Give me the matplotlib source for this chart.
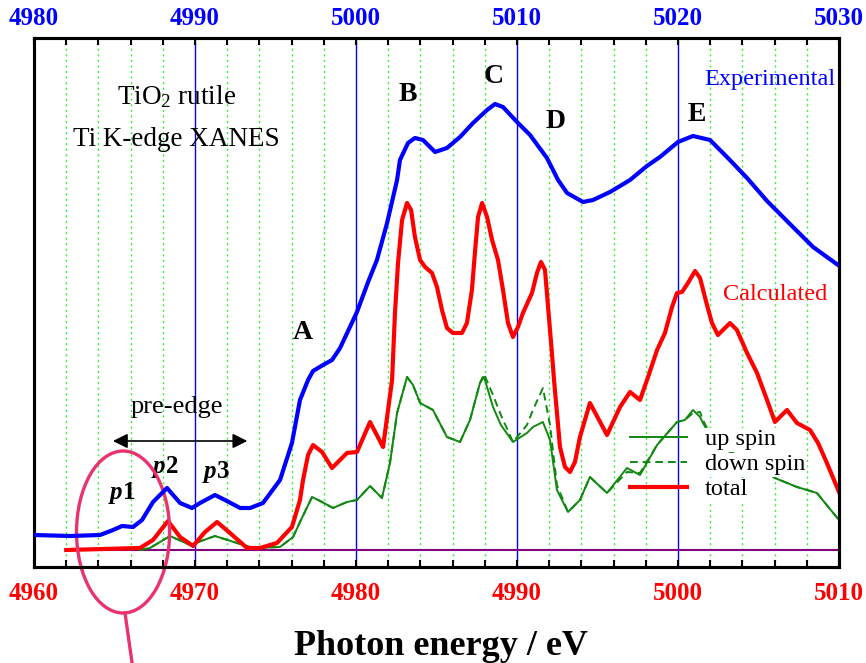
import matplotlib
matplotlib.use("Agg")
import matplotlib.pyplot as plt
import numpy as np
from matplotlib.patches import Ellipse
from matplotlib.ticker import MultipleLocator

plt.rcParams['font.family'] = ['Liberation Serif', 'DejaVu Serif']
plt.rcParams['mathtext.fontset'] = 'custom'
plt.rcParams['mathtext.rm'] = 'Liberation Serif'
plt.rcParams['mathtext.it'] = 'Liberation Serif:italic'
plt.rcParams['mathtext.bf'] = 'Liberation Serif:bold'
plt.rcParams['mathtext.bfit'] = 'Liberation Serif:bold:italic'
plt.rcParams['lines.solid_joinstyle'] = 'round'
plt.rcParams['lines.dash_joinstyle'] = 'round'

# experimental spectrum (energy on the upper, blue scale)
exp_e = [4980.0, 4982.24, 4984.10, 4984.91, 4985.47, 4986.15, 4986.71, 4987.39,
         4988.26, 4989.07, 4989.81, 4990.31, 4991.24, 4991.86, 4992.80, 4993.42,
         4994.22, 4995.28, 4996.02, 4996.52, 4997.02, 4997.33, 4997.95, 4998.51,
         4999.01, 5000.06, 5000.75, 5001.30, 5001.93, 5002.55, 5002.73, 5003.23,
         5003.66, 5004.16, 5004.91, 5005.65, 5006.46, 5007.27, 5008.14, 5008.63,
         5009.13, 5010.00, 5010.81, 5011.86, 5012.55, 5013.11, 5014.10, 5014.72,
         5015.78, 5017.02, 5018.07, 5018.88, 5020.00, 5020.93, 5021.99, 5023.04,
         5024.29, 5025.53, 5027.14, 5028.39, 5029.94]
exp_i = [0.15, 0.14, 0.15, 0.20, 0.24, 0.23, 0.30, 0.48,
         0.62, 0.47, 0.42, 0.47, 0.55, 0.50, 0.42, 0.42,
         0.47, 0.70, 1.07, 1.50, 1.70, 1.79, 1.85, 1.90,
         2.02, 2.38, 2.68, 2.90, 3.27, 3.70, 3.90, 4.07,
         4.12, 4.10, 3.98, 4.02, 4.13, 4.27, 4.40, 4.46,
         4.43, 4.28, 4.15, 3.92, 3.70, 3.57, 3.48, 3.50,
         3.58, 3.70, 3.84, 3.93, 4.08, 4.14, 4.10, 3.93,
         3.72, 3.49, 3.23, 3.03, 2.85]

# calculated total spectrum (lower, red scale)
calc_e = [4962.0, 4966.58, 4967.39, 4968.32, 4969.07, 4969.88, 4970.62, 4971.37,
          4972.17, 4973.23, 4974.04, 4975.09, 4976.02, 4976.52, 4976.71, 4977.02,
          4977.33, 4977.89, 4978.51, 4979.44, 4980.06, 4980.87, 4981.68, 4982.24,
          4982.42, 4982.61, 4982.86, 4983.17, 4983.42, 4983.66, 4983.98, 4984.29,
          4984.72, 4985.03, 4985.34, 4985.65, 4986.02, 4986.58, 4986.89, 4987.20,
          4987.39, 4987.58, 4987.83, 4988.14, 4988.45, 4988.82, 4989.13, 4989.44,
          4989.75, 4990.06, 4990.37, 4990.93, 4991.24, 4991.49, 4991.74, 4991.93,
          4992.17, 4992.30, 4992.67, 4992.98, 4993.29, 4993.60, 4993.91, 4994.53,
          4995.03, 4995.59, 4996.40, 4997.02, 4997.64, 4998.14, 4998.70, 4999.19,
          4999.63, 4999.94, 5000.25, 5000.62, 5001.06, 5001.37, 5001.80, 5002.11,
          5002.48, 5003.23, 5003.66, 5004.29, 5004.91, 5005.53, 5006.02, 5006.77,
          5007.39, 5008.20, 5008.70, 5009.25, 5010.0]
calc_i = [0.0, 0.02, 0.10, 0.29, 0.13, 0.04, 0.18, 0.28,
          0.17, 0.02, 0.02, 0.07, 0.23, 0.50, 0.70, 0.95,
          1.05, 0.98, 0.82, 0.97, 0.98, 1.28, 1.03, 1.70,
          2.37, 2.87, 3.30, 3.47, 3.40, 3.13, 2.90, 2.83,
          2.77, 2.63, 2.40, 2.22, 2.17, 2.17, 2.27, 2.60,
          2.98, 3.33, 3.47, 3.33, 3.10, 2.90, 2.60, 2.27,
          2.13, 2.23, 2.37, 2.57, 2.77, 2.88, 2.80, 2.43,
          1.97, 1.70, 1.03, 0.83, 0.78, 0.88, 1.13, 1.47,
          1.32, 1.15, 1.43, 1.58, 1.50, 1.73, 2.00, 2.17,
          2.43, 2.57, 2.58, 2.67, 2.79, 2.72, 2.45, 2.27,
          2.15, 2.27, 2.20, 1.97, 1.77, 1.50, 1.28, 1.40,
          1.27, 1.20, 1.07, 0.87, 0.58]

# spin-resolved spectra
spin_e = [4966.58, 4967.20, 4968.45, 4969.69, 4971.24, 4972.61, 4973.60, 4975.28, 4976.09, 4976.52,
          4977.27, 4977.89, 4978.57, 4979.44, 4980.06, 4980.87, 4981.61, 4982.11, 4982.55, 4983.17,
          4983.54, 4983.98, 4984.78, 4985.65, 4986.46, 4987.08, 4987.70, 4987.95, 4988.51, 4989.00,
          4989.75, 4990.62, 4990.99, 4991.61, 4992.05, 4992.48, 4993.17, 4993.91, 4994.53, 4995.59,
          4996.83, 4997.64, 4998.70, 4999.94, 5000.43, 5000.93, 5001.37, 5001.55, 5002.17, 5003.23,
          5004.47, 5006.02, 5007.39, 5008.63, 5010.0]
up_i = [0.0, 0.02, 0.14, 0.05, 0.14, 0.07, 0.02, 0.03, 0.13, 0.28,
        0.53, 0.48, 0.42, 0.48, 0.50, 0.64, 0.52, 0.87, 1.37, 1.73,
        1.65, 1.47, 1.40, 1.13, 1.08, 1.30, 1.67, 1.73, 1.43, 1.25,
        1.08, 1.17, 1.23, 1.28, 1.10, 0.60, 0.38, 0.50, 0.73, 0.57,
        0.82, 0.75, 1.05, 1.28, 1.30, 1.40, 1.33, 1.27, 1.10, 0.98,
        0.90, 0.72, 0.63, 0.57, 0.30]
down_i = [0.0, 0.02, 0.14, 0.05, 0.14, 0.07, 0.02, 0.03, 0.13, 0.28,
          0.53, 0.48, 0.42, 0.48, 0.50, 0.64, 0.52, 0.87, 1.37, 1.73,
          1.65, 1.47, 1.40, 1.13, 1.08, 1.30, 1.67, 1.76, 1.55, 1.35,
          1.08, 1.25, 1.40, 1.62, 1.25, 0.65, 0.38, 0.50, 0.73, 0.57,
          0.78, 0.77, 1.05, 1.28, 1.30, 1.37, 1.38, 1.30, 1.10, 0.98,
          0.90, 0.72, 0.63, 0.57, 0.30]

fig = plt.figure(figsize=(8.66, 6.63), dpi=100)
ax = fig.add_axes([0.0393, 0.1448, 0.9295, 0.7979])
ax.set_xlim(4960, 5010)
ax.set_ylim(-0.17, 5.12)
ax.set_yticks([])

# grid: blue every 10 eV, green dotted every 2 eV
ax.xaxis.set_major_locator(MultipleLocator(10))
ax.xaxis.set_minor_locator(MultipleLocator(2))
ax.grid(which='major', axis='x', color='#0000ff', lw=1.0, ls='-')
ax.grid(which='minor', axis='x', color='#33ee33', lw=1.0, ls=(0, (1.5, 2.5)))
ax.set_axisbelow(True)

ax.tick_params(axis='x', which='both', direction='in', length=5, width=1.5,
               top=False, bottom=True, pad=11)
ax.tick_params(axis='x', which='major', labelsize=18, labelcolor='#ff0000')
for lab in ax.get_xticklabels():
    lab.set_fontweight('bold')
for sp in ax.spines.values():
    sp.set_linewidth(2.2)

# baseline, spin-resolved and total calculated spectra
ax.plot(calc_e, np.zeros(len(calc_e)), color='#800080', lw=1.5, zorder=2)
ax.plot(spin_e, up_i, color='#118811', lw=1.4, zorder=3, label='up spin')
ax.plot(spin_e, down_i, color='#118811', lw=1.4, ls=(0, (4, 2.5)), zorder=3,
        label='down spin')
ax.plot(calc_e, calc_i, color='#ff0000', lw=3.0, zorder=4, label='total')

leg = ax.legend(loc='upper left', bbox_to_anchor=(0.740, 0.262), frameon=False,
                fontsize=17.5, handlelength=2.35, handletextpad=0.75,
                labelspacing=0.12, borderpad=0, borderaxespad=0)
for t in leg.get_texts():
    t.set_bbox(dict(facecolor='white', edgecolor='none', pad=1))

# experimental spectrum on the upper energy scale
ax2 = ax.twiny()
ax2.set_xlim(4980, 5030)
ax2.xaxis.set_major_locator(MultipleLocator(10))
ax2.xaxis.set_minor_locator(MultipleLocator(2))
ax2.tick_params(axis='x', which='both', direction='in', length=5, width=1.5, pad=6)
ax2.tick_params(axis='x', which='major', labelsize=18, labelcolor='#0000ff')
for lab in ax2.get_xticklabels():
    lab.set_fontweight('bold')
for sp in ax2.spines.values():
    sp.set_linewidth(2.2)
ax2.plot(exp_e, exp_i, color='#0000ff', lw=3.0, zorder=4)

# labels
ax.text(4968.85, 4.53, r'TiO$_2$ rutile', fontsize=19.5, ha='center', va='center')
ax.text(4968.82, 4.10, 'Ti K-edge XANES', fontsize=19.5, ha='center', va='center')
ax.text(5009.8, 4.70, 'Experimental', fontsize=17.5, color='#0000ff',
        ha='right', va='center')
ax.text(5009.25, 2.55, 'Calculated', fontsize=17.5, color='#ff0000',
        ha='right', va='center')
for s, xe, yv in [('A', 4976.71, 2.17), ('B', 4983.23, 4.55), ('C', 4988.57, 4.73),
                  ('D', 4992.42, 4.28), ('E', 5001.18, 4.35)]:
    ax.text(xe, yv, s, fontsize=20, fontweight='bold', ha='center', va='center')

ax.text(4968.88, 1.43, 'pre-edge', fontsize=19, ha='center', va='center')
ax.annotate('', xy=(4964.9, 1.09), xytext=(4973.25, 1.09),
            arrowprops=dict(arrowstyle='<|-|>', color='black', lw=1.2,
                            mutation_scale=22, shrinkA=0, shrinkB=0))
for s, xe, yv in [(r'$\mathbfit{p}$1', 4965.47, 0.57), (r'$\mathbfit{p}$2', 4968.14, 0.83),
                  (r'$\mathbfit{p}$3', 4971.30, 0.78)]:
    ax.text(xe, yv, s, fontsize=18, fontweight='bold', ha='center', va='center')

# highlight around p1
pink = '#e8336e'
ax.add_patch(Ellipse((4965.53, 0.18), 5.78, 1.62, fill=False, ec=pink, lw=2.4,
                     clip_on=False, zorder=6))
ax.plot([4965.65, 4966.09], [-0.63, -1.13], color=pink, lw=2.4, clip_on=False,
        zorder=6)

ax.set_xlabel('Photon energy / eV', fontsize=26, fontweight='bold', labelpad=18)
ax.xaxis.label.set_x(0.505)

fig.savefig('out.png', dpi=100)
